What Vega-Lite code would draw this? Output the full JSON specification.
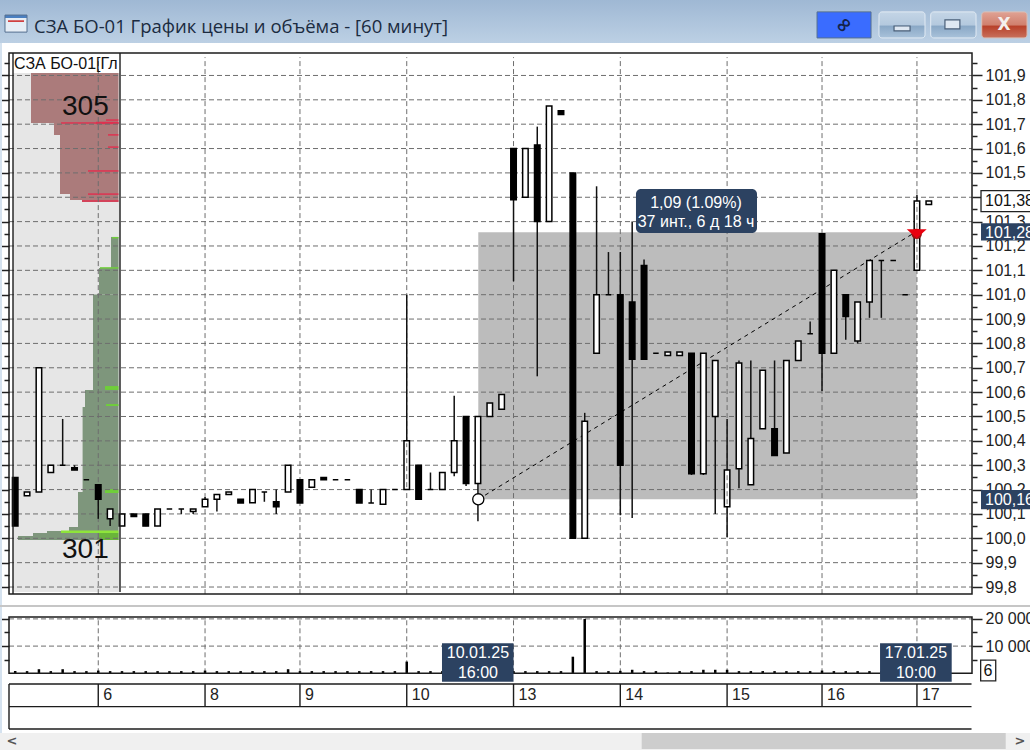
{"$schema":"https://vega.github.io/schema/vega-lite/v6.json","width":1030,"height":750,"padding":0,"autosize":{"type":"none"},"background":"#ffffff","config":{"view":{"stroke":null},"font":"Liberation Sans"},
"datasets":{
"candles":[
{"k":0,"o":100.25,"h":100.25,"l":100.05,"c":100.05},{"k":1,"o":100.175,"h":100.19,"l":100.175,"c":100.19},{"k":2,"o":100.19,"h":100.70,"l":100.19,"c":100.70},{"k":3,"o":100.27,"h":100.30,"l":100.27,"c":100.30},{"k":4,"o":100.30,"h":100.49,"l":100.30,"c":100.30},{"k":5,"o":100.29,"h":100.30,"l":100.28,"c":100.28},{"k":6,"o":100.24,"h":100.24,"l":100.24,"c":100.24},{"k":7,"o":100.22,"h":100.22,"l":100.08,"c":100.16},{"k":8,"o":100.08,"h":100.12,"l":100.05,"c":100.12},{"k":9,"o":100.05,"h":100.10,"l":100.05,"c":100.10},{"k":10,"o":100.10,"h":100.10,"l":100.09,"c":100.09},{"k":11,"o":100.10,"h":100.10,"l":100.05,"c":100.05},{"k":12,"o":100.05,"h":100.12,"l":100.05,"c":100.12},{"k":13,"o":100.12,"h":100.12,"l":100.12,"c":100.12},{"k":14,"o":100.12,"h":100.12,"l":100.10,"c":100.12},{"k":15,"o":100.11,"h":100.12,"l":100.10,"c":100.12},{"k":16,"o":100.13,"h":100.17,"l":100.13,"c":100.16},{"k":17,"o":100.16,"h":100.18,"l":100.11,"c":100.18},{"k":18,"o":100.18,"h":100.19,"l":100.18,"c":100.19},{"k":19,"o":100.16,"h":100.16,"l":100.145,"c":100.145},{"k":20,"o":100.146,"h":100.20,"l":100.146,"c":100.20},{"k":21,"o":100.19,"h":100.19,"l":100.15,"c":100.19},{"k":22,"o":100.15,"h":100.20,"l":100.10,"c":100.13},{"k":23,"o":100.19,"h":100.30,"l":100.19,"c":100.30},{"k":24,"o":100.24,"h":100.24,"l":100.145,"c":100.145},{"k":25,"o":100.21,"h":100.24,"l":100.21,"c":100.24},{"k":26,"o":100.25,"h":100.25,"l":100.24,"c":100.24},{"k":27,"o":100.24,"h":100.24,"l":100.24,"c":100.24},{"k":28,"o":100.24,"h":100.24,"l":100.24,"c":100.24},{"k":29,"o":100.20,"h":100.20,"l":100.145,"c":100.145},{"k":30,"o":100.145,"h":100.20,"l":100.145,"c":100.145},{"k":31,"o":100.14,"h":100.20,"l":100.14,"c":100.20},{"k":32,"o":100.20,"h":100.20,"l":100.20,"c":100.20},{"k":33,"o":100.20,"h":101.00,"l":100.20,"c":100.40},{"k":34,"o":100.30,"h":100.30,"l":100.16,"c":100.16},{"k":35,"o":100.20,"h":100.27,"l":100.20,"c":100.20},{"k":36,"o":100.20,"h":100.27,"l":100.20,"c":100.27},{"k":37,"o":100.27,"h":100.585,"l":100.255,"c":100.40},{"k":38,"o":100.50,"h":100.50,"l":100.215,"c":100.225},{"k":39,"o":100.225,"h":100.50,"l":100.07,"c":100.50},{"k":40,"o":100.50,"h":100.555,"l":100.50,"c":100.555},{"k":41,"o":100.53,"h":100.59,"l":100.53,"c":100.59},{"k":42,"o":101.60,"h":101.60,"l":101.055,"c":101.39},{"k":43,"o":101.40,"h":101.60,"l":101.40,"c":101.60},{"k":44,"o":101.615,"h":101.69,"l":100.665,"c":101.30},{"k":45,"o":101.30,"h":101.775,"l":101.30,"c":101.775},{"k":46,"o":101.755,"h":101.755,"l":101.74,"c":101.74},{"k":47,"o":101.50,"h":101.50,"l":100.00,"c":100.00},{"k":48,"o":100.00,"h":100.515,"l":100.00,"c":100.48},{"k":49,"o":100.76,"h":101.445,"l":100.76,"c":101.00},{"k":50,"o":101.00,"h":101.175,"l":101.00,"c":101.00},{"k":51,"o":101.00,"h":101.175,"l":100.095,"c":100.30},{"k":52,"o":100.97,"h":101.30,"l":100.083,"c":100.735},{"k":53,"o":101.12,"h":101.145,"l":100.735,"c":100.735},{"k":54,"o":100.76,"h":100.76,"l":100.76,"c":100.76},{"k":55,"o":100.75,"h":100.765,"l":100.75,"c":100.765},{"k":56,"o":100.75,"h":100.765,"l":100.75,"c":100.765},{"k":57,"o":100.76,"h":100.76,"l":100.26,"c":100.265},{"k":58,"o":100.265,"h":100.76,"l":100.26,"c":100.76},{"k":59,"o":100.50,"h":100.73,"l":100.10,"c":100.73},{"k":60,"o":100.13,"h":100.49,"l":100.005,"c":100.28},{"k":61,"o":100.285,"h":100.73,"l":100.205,"c":100.72},{"k":62,"o":100.22,"h":100.73,"l":100.22,"c":100.41},{"k":63,"o":100.45,"h":100.69,"l":100.45,"c":100.69},{"k":64,"o":100.45,"h":100.73,"l":100.34,"c":100.34},{"k":65,"o":100.35,"h":100.73,"l":100.35,"c":100.73},{"k":66,"o":100.73,"h":100.81,"l":100.73,"c":100.81},{"k":67,"o":100.84,"h":100.89,"l":100.84,"c":100.84},{"k":68,"o":101.25,"h":101.25,"l":100.605,"c":100.76},{"k":69,"o":100.76,"h":101.10,"l":100.76,"c":101.10},{"k":70,"o":101.00,"h":101.00,"l":100.815,"c":100.91},{"k":71,"o":100.81,"h":100.97,"l":100.80,"c":100.97},{"k":72,"o":100.97,"h":101.14,"l":100.905,"c":101.14},{"k":73,"o":101.14,"h":101.14,"l":100.905,"c":101.14},{"k":74,"o":101.14,"h":101.14,"l":101.14,"c":101.14},{"k":75,"o":101.00,"h":101.00,"l":101.00,"c":101.00},{"k":76,"o":101.10,"h":101.41,"l":101.10,"c":101.385},{"k":77,"o":101.37,"h":101.385,"l":101.37,"c":101.385}],
"volumes":[{"k":0,"v":800},{"k":1,"v":800},{"k":2,"v":1500},{"k":3,"v":800},{"k":4,"v":1500},{"k":5,"v":800},{"k":6,"v":800},{"k":7,"v":1000},{"k":8,"v":800},{"k":9,"v":800},{"k":10,"v":800},{"k":11,"v":800},{"k":12,"v":800},{"k":13,"v":800},{"k":14,"v":800},{"k":15,"v":800},{"k":16,"v":1000},{"k":17,"v":800},{"k":18,"v":800},{"k":19,"v":800},{"k":20,"v":800},{"k":21,"v":800},{"k":22,"v":800},{"k":23,"v":1500},{"k":24,"v":800},{"k":25,"v":800},{"k":26,"v":800},{"k":27,"v":800},{"k":28,"v":800},{"k":29,"v":800},{"k":30,"v":800},{"k":31,"v":800},{"k":32,"v":800},{"k":33,"v":4300},{"k":34,"v":800},{"k":35,"v":800},{"k":36,"v":800},{"k":37,"v":800},{"k":38,"v":800},{"k":39,"v":800},{"k":40,"v":800},{"k":41,"v":800},{"k":42,"v":800},{"k":43,"v":800},{"k":44,"v":800},{"k":45,"v":800},{"k":46,"v":800},{"k":47,"v":6100},{"k":48,"v":20000},{"k":49,"v":800},{"k":50,"v":800},{"k":51,"v":900},{"k":52,"v":1300},{"k":53,"v":800},{"k":54,"v":800},{"k":55,"v":300},{"k":56,"v":800},{"k":57,"v":800},{"k":58,"v":1300},{"k":59,"v":1300},{"k":60,"v":1300},{"k":61,"v":800},{"k":62,"v":800},{"k":63,"v":800},{"k":64,"v":800},{"k":65,"v":800},{"k":66,"v":800},{"k":67,"v":800},{"k":68,"v":1000},{"k":69,"v":800},{"k":70,"v":800},{"k":71,"v":800},{"k":72,"v":800},{"k":73,"v":800},{"k":74,"v":800},{"k":75,"v":800}],
"hgrid":[{"p":99.8},{"p":99.9},{"p":100.0},{"p":100.1},{"p":100.2},{"p":100.3},{"p":100.4},{"p":100.5},{"p":100.6},{"p":100.7},{"p":100.8},{"p":100.9},{"p":101.0},{"p":101.1},{"p":101.2},{"p":101.3},{"p":101.4},{"p":101.5},{"p":101.6},{"p":101.7},{"p":101.8},{"p":101.9}],
"dates":[{"k":7,"d":"6"},{"k":16,"d":"8"},{"k":24,"d":"9"},{"k":33,"d":"10"},{"k":42,"d":"13"},{"k":51,"d":"14"},{"k":60,"d":"15"},{"k":68,"d":"16"},{"k":76,"d":"17"}],
"bg":[
{"part":"edge","k":-1.281,"k2":-1.113,"p":99.131,"p2":102.033},
{"part":"scroll","k":-1.281,"k2":85.529,"p":99.131,"p2":99.201},
{"part":"thumb","k":52.80,"k2":83.48,"p":99.135,"p2":99.201},
{"part":"sep","k":-1.281,"k2":85.529,"p":99.718,"p2":99.726},
{"part":"panel","k":-0.185,"k2":8.833,"p":99.780,"p2":101.910},
{"part":"ask","k":1.332,"k2":8.706,"p":101.705,"p2":101.910},
{"part":"ask","k":3.270,"k2":8.706,"p":101.656,"p2":101.705},
{"part":"ask","k":3.776,"k2":8.706,"p":101.413,"p2":101.656},
{"part":"ask","k":4.619,"k2":8.706,"p":101.389,"p2":101.413},
{"part":"ask","k":5.630,"k2":8.706,"p":101.381,"p2":101.389},
{"part":"askhi","k":3.860,"k2":8.706,"p":101.702,"p2":101.708},
{"part":"askhi","k":6.809,"k2":8.706,"p":101.700,"p2":101.710},
{"part":"askhi","k":7.653,"k2":8.706,"p":101.714,"p2":101.720},
{"part":"askhi","k":7.821,"k2":8.706,"p":101.653,"p2":101.659},
{"part":"askhi","k":7.821,"k2":8.706,"p":101.603,"p2":101.609},
{"part":"askhi","k":6.136,"k2":8.706,"p":101.505,"p2":101.511},
{"part":"askhi","k":6.136,"k2":8.706,"p":101.410,"p2":101.416},
{"part":"askhi","k":5.630,"k2":8.706,"p":101.382,"p2":101.388},
{"part":"bid","k":8.074,"k2":8.706,"p":101.110,"p2":101.237},
{"part":"bid","k":7.063,"k2":8.706,"p":101.001,"p2":101.110},
{"part":"bid","k":6.557,"k2":8.706,"p":100.609,"p2":101.001},
{"part":"bid","k":5.883,"k2":8.706,"p":100.539,"p2":100.609},
{"part":"bid","k":5.681,"k2":8.706,"p":100.190,"p2":100.539},
{"part":"bid","k":5.293,"k2":8.706,"p":100.046,"p2":100.190},
{"part":"bid","k":4.535,"k2":8.706,"p":100.030,"p2":100.046},
{"part":"bid","k":2.680,"k2":8.706,"p":100.022,"p2":100.030},
{"part":"bid","k":1.500,"k2":8.706,"p":100.009,"p2":100.022},
{"part":"bid","k":0.236,"k2":8.706,"p":99.993,"p2":100.009},
{"part":"bidhi","k":7.568,"k2":8.706,"p":100.609,"p2":100.625},
{"part":"bidhi","k":7.653,"k2":8.706,"p":100.543,"p2":100.551},
{"part":"bidhi","k":7.568,"k2":8.706,"p":100.186,"p2":100.202},
{"part":"bidhi","k":7.147,"k2":8.706,"p":101.107,"p2":101.113},
{"part":"bidhi","k":8.158,"k2":8.706,"p":101.231,"p2":101.237},
{"part":"bidhi2","k":7.063,"k2":8.706,"p":99.993,"p2":100.022},
{"part":"bright","k":3.860,"k2":8.706,"p":100.022,"p2":100.032},
{"part":"range","k":39.03,"k2":75.98,"p":100.16,"p2":101.256},
{"part":"icon","k":-0.860,"k2":0.995,"p":102.078,"p2":102.148},
{"part":"iconhi","k":-0.860,"k2":0.995,"p":102.136,"p2":102.148},
{"part":"iconline","k":-0.607,"k2":0.742,"p":102.119,"p2":102.127},
{"part":"link","k":67.58,"k2":72.13,"p":102.054,"p2":102.161}],
"tags":[
{"k":35.97,"k2":42.0,"p":99.411,"p2":99.569},
{"k":72.89,"k2":78.93,"p":99.411,"p2":99.569},
{"k":81.4,"k2":85.6,"p":101.222,"p2":101.293},
{"k":81.4,"k2":85.6,"p":100.119,"p2":100.198}],
"boxed":[{"k":81.4,"k2":85.8,"p":101.341,"p2":101.427},{"k":81.37,"k2":82.64,"p":99.415,"p2":99.500}],
"white":[{"t":"1,09 (1.09%)","k":57.38,"p":101.376},{"t":"37 инт., 6 д 18 ч","k":57.38,"p":101.298},{"t":"10.01.25","k":39.0,"p":99.529},{"t":"16:00","k":39.0,"p":99.447},{"t":"17.01.25","k":75.92,"p":99.529},{"t":"10:00","k":75.92,"p":99.447}],
"whiteLeft":[{"t":"101,28","k":81.74,"p":101.253},{"t":"100,16","k":81.74,"p":100.157}],
"darkLeft":[{"t":"101,38","k":81.74,"p":101.385},{"t":"СЗА БО-01[Гл","k":-0.101,"p":101.947}]
},
"resolve":{"scale":{"y":"independent"},"axis":{"y":"independent"}},
"layer":[
{"resolve":{"axis":{"y":"independent"}},"layer":[
{"data":{"values":[{"v":10000},{"v":20000}]},"mark":{"type":"rule","color":"#6e6e6e","strokeWidth":1,"strokeDash":[5,3]},"encoding":{"y":{"field":"v","type":"quantitative","scale":{"domain":[-28199,247537],"nice":false,"zero":false},"title":null,"axis":{"orient":"right","offset":-58,"title":null,"domain":false,"grid":false,"values":[5000,10000,15000,20000],"tickColor":"#222222","tickWidth":1.5,"tickSize":{"condition":{"test":"datum.value%10000==0","value":10},"value":5},"labelFont":"Liberation Sans","labelFontSize":16,"labelColor":"#222222","labelPadding":3,"labelOverlap":false,"labelBound":false,"labelFlush":false,"labelExpr":"datum.value%10000==0 ? replace(format(datum.value,','),',',' ') : ''"}},"x":{"datum":-0.5225,"type":"quantitative","scale":{"domain":[-1.2811,85.5288],"nice":false,"zero":false,"padding":0},"axis":null},"x2":{"datum":80.641}}},
{"data":{"name":"dates"},"mark":{"type":"rule","color":"#6e6e6e","strokeWidth":1,"strokeDash":[5,3]},"encoding":{"x":{"field":"k","type":"quantitative","scale":{"domain":[-1.2811,85.5288],"nice":false,"zero":false,"padding":0},"axis":null},"y":{"datum":0,"type":"quantitative","scale":{"domain":[-28199,247537],"nice":false,"zero":false},"axis":null},"y2":{"datum":20698}}},
{"data":{"name":"volumes"},"mark":{"type":"bar","orient":"vertical","size":2.5,"color":"#000000"},"encoding":{"x":{"field":"k","type":"quantitative","scale":{"domain":[-1.2811,85.5288],"nice":false,"zero":false,"padding":0},"axis":null},"y":{"field":"v","type":"quantitative","scale":{"domain":[-28199,247537],"nice":false,"zero":false},"title":null,"axis":{"orient":"left","offset":-9,"title":null,"domain":false,"grid":false,"labels":false,"values":[5000,10000,15000,20000],"tickColor":"#222222","tickWidth":1.5,"tickSize":{"condition":{"test":"datum.value%10000==0","value":8},"value":5}}},"y2":{"datum":0}}},
{"data":{"values":[{"k":-0.5225,"k2":80.641,"v":0,"v2":20698}]},"mark":{"type":"rect","fillOpacity":0,"stroke":"#1c1c1c","strokeWidth":1.5},"encoding":{"x":{"field":"k","type":"quantitative","scale":{"domain":[-1.2811,85.5288],"nice":false,"zero":false,"padding":0},"axis":null},"x2":{"field":"k2"},"y":{"field":"v","type":"quantitative","scale":{"domain":[-28199,247537],"nice":false,"zero":false},"axis":null},"y2":{"field":"v2"}}}
]},
{"resolve":{"axis":{"y":"independent"}},"layer":[
{"data":{"values":[{"k":-1.281,"k2":85.529,"p":102.033,"p2":102.2098}]},"mark":{"type":"rect","strokeWidth":0,"fill":{"x1":0,"y1":0,"x2":0,"y2":1,"gradient":"linear","stops":[{"offset":0,"color":"#9fb8d4"},{"offset":1,"color":"#bcd0e4"}]}},"encoding":{"x":{"field":"k","type":"quantitative","scale":{"domain":[-1.2811,85.5288],"nice":false,"zero":false,"padding":0},"axis":null},"x2":{"field":"k2"},"y":{"field":"p","type":"quantitative","scale":{"domain":[99.13095,102.20977],"nice":false,"zero":false},"axis":null},"y2":{"field":"p2"}}},
{"data":{"name":"bg"},"mark":{"type":"rect","strokeWidth":0},"encoding":{"x":{"field":"k","type":"quantitative","scale":{"domain":[-1.2811,85.5288],"nice":false,"zero":false,"padding":0},"axis":null},"x2":{"field":"k2"},"y":{"field":"p","type":"quantitative","scale":{"domain":[99.13095,102.20977],"nice":false,"zero":false},"axis":null},"y2":{"field":"p2"},"fill":{"field":"part","type":"nominal","legend":null,"scale":{"domain":["edge","scroll","thumb","sep","panel","ask","askhi","bid","bidhi","bidhi2","bright","range","icon","iconhi","iconline","link"],"range":["#d5e2ef","#f0f0f0","#cdcdcd","#c6c6c6","#e6e6e6","#ab7b7b","#e0304f","#7e967c","#6fce3a","#6ab53a","#8ee53a","#bcbcbc","#e6edf5","#4a7fc0","#d04040","#3a6cff"]}}}},
{"data":{"values":[{"k":-0.860,"k2":0.995,"p":102.078,"p2":102.148},{"k":67.58,"k2":72.13,"p":102.054,"p2":102.161}]},"mark":{"type":"rect","fillOpacity":0,"stroke":"#56708f","strokeWidth":1},"encoding":{"x":{"field":"k","type":"quantitative","scale":{"domain":[-1.2811,85.5288],"nice":false,"zero":false,"padding":0},"axis":null},"x2":{"field":"k2"},"y":{"field":"p","type":"quantitative","scale":{"domain":[99.13095,102.20977],"nice":false,"zero":false},"axis":null},"y2":{"field":"p2"}}},
{"data":{"values":[{"k":72.80,"k2":76.68,"p":102.054,"p2":102.161},{"k":77.16,"k2":80.98,"p":102.054,"p2":102.161}]},"mark":{"type":"rect","cornerRadius":3,"stroke":"#e2ebf4","strokeWidth":1,"fill":{"x1":0,"y1":0,"x2":0,"y2":1,"gradient":"linear","stops":[{"offset":0,"color":"#c4d5e6"},{"offset":0.5,"color":"#b4c9de"},{"offset":0.55,"color":"#8aa8c6"},{"offset":1,"color":"#a9c2da"}]}},"encoding":{"x":{"field":"k","type":"quantitative","scale":{"domain":[-1.2811,85.5288],"nice":false,"zero":false,"padding":0},"axis":null},"x2":{"field":"k2"},"y":{"field":"p","type":"quantitative","scale":{"domain":[99.13095,102.20977],"nice":false,"zero":false},"axis":null},"y2":{"field":"p2"}}},
{"data":{"values":[{"k":81.46,"k2":85.28,"p":102.054,"p2":102.161}]},"mark":{"type":"rect","cornerRadius":3,"stroke":"#d9c0b8","strokeWidth":1,"fill":{"x1":0,"y1":0,"x2":0,"y2":1,"gradient":"linear","stops":[{"offset":0,"color":"#e0a294"},{"offset":0.5,"color":"#d0806e"},{"offset":0.55,"color":"#b8412a"},{"offset":1,"color":"#c8705c"}]}},"encoding":{"x":{"field":"k","type":"quantitative","scale":{"domain":[-1.2811,85.5288],"nice":false,"zero":false,"padding":0},"axis":null},"x2":{"field":"k2"},"y":{"field":"p","type":"quantitative","scale":{"domain":[99.13095,102.20977],"nice":false,"zero":false},"axis":null},"y2":{"field":"p2"}}},
{"data":{"values":[{"k":74.07,"k2":75.42,"p":102.083,"p2":102.103},{"k":78.36,"k2":79.62,"p":102.091,"p2":102.128}]},"mark":{"type":"rect","fill":"#dfe8f2","stroke":"#4a5f78","strokeWidth":1.2},"encoding":{"x":{"field":"k","type":"quantitative","scale":{"domain":[-1.2811,85.5288],"nice":false,"zero":false,"padding":0},"axis":null},"x2":{"field":"k2"},"y":{"field":"p","type":"quantitative","scale":{"domain":[99.13095,102.20977],"nice":false,"zero":false},"axis":null},"y2":{"field":"p2"}}},
{"data":{"name":"hgrid"},"mark":{"type":"rule","color":"#6e6e6e","strokeWidth":1,"strokeDash":[5,3]},"encoding":{"y":{"field":"p","type":"quantitative","scale":{"domain":[99.13095,102.20977],"nice":false,"zero":false},"title":null,"axis":{"orient":"right","offset":-58,"title":null,"domain":false,"grid":false,"values":[99.8,99.85,99.9,99.95,100,100.05,100.1,100.15,100.2,100.25,100.3,100.35,100.4,100.45,100.5,100.55,100.6,100.65,100.7,100.75,100.8,100.85,100.9,100.95,101,101.05,101.1,101.15,101.2,101.25,101.3,101.35,101.4,101.45,101.5,101.55,101.6,101.65,101.7,101.75,101.8,101.85,101.9,101.95],"tickColor":"#222222","tickWidth":1.5,"tickSize":{"condition":{"test":"abs(datum.value*10-round(datum.value*10))<0.001","value":10},"value":5},"labelFont":"Liberation Sans","labelFontSize":16,"labelColor":"#222222","labelPadding":3,"labelOverlap":false,"labelBound":false,"labelFlush":false,"labelExpr":"abs(datum.value*10-round(datum.value*10))<0.001 ? replace(format(datum.value,'.1f'),'.',',') : ''"}},"x":{"datum":-0.5225,"type":"quantitative","scale":{"domain":[-1.2811,85.5288],"nice":false,"zero":false,"padding":0},"axis":null},"x2":{"datum":80.641}}},
{"data":{"name":"dates"},"mark":{"type":"rule","color":"#6e6e6e","strokeWidth":1,"strokeDash":[5,3]},"encoding":{"x":{"field":"k","type":"quantitative","scale":{"domain":[-1.2811,85.5288],"nice":false,"zero":false,"padding":0},"axis":null},"y":{"datum":99.771,"type":"quantitative","scale":{"domain":[99.13095,102.20977],"nice":false,"zero":false},"axis":null},"y2":{"datum":101.975}}},
{"data":{"values":[{"k":39.03,"p":100.16},{"k":75.98,"p":101.26}]},"mark":{"type":"line","color":"#000000","strokeWidth":1,"strokeDash":[4,4]},"encoding":{"x":{"field":"k","type":"quantitative","scale":{"domain":[-1.2811,85.5288],"nice":false,"zero":false,"padding":0},"axis":null},"y":{"field":"p","type":"quantitative","scale":{"domain":[99.13095,102.20977],"nice":false,"zero":false},"axis":null}}},
{"data":{"name":"candles"},"mark":{"type":"rule","color":"#111111","strokeWidth":1.5},"encoding":{"x":{"field":"k","type":"quantitative","scale":{"domain":[-1.2811,85.5288],"nice":false,"zero":false,"padding":0},"axis":null},"y":{"field":"l","type":"quantitative","scale":{"domain":[99.13095,102.20977],"nice":false,"zero":false},"axis":null},"y2":{"field":"h"}}},
{"data":{"name":"candles"},"mark":{"type":"bar","orient":"vertical","size":5.5,"stroke":"#000000","strokeWidth":1.5},"encoding":{"x":{"field":"k","type":"quantitative","scale":{"domain":[-1.2811,85.5288],"nice":false,"zero":false,"padding":0},"axis":null},"y":{"field":"o","type":"quantitative","scale":{"domain":[99.13095,102.20977],"nice":false,"zero":false},"axis":null},"y2":{"field":"c"},"fill":{"condition":{"test":"datum.c<datum.o","value":"#000000"},"value":"#ffffff"}}},
{"data":{"values":[{"k":33,"a":100.21,"b":100.39},{"k":60,"a":100.14,"b":100.27},{"k":76,"a":101.11,"b":101.375}]},"mark":{"type":"rule","color":"#6e6e6e","strokeWidth":1,"strokeDash":[5,3]},"encoding":{"x":{"field":"k","type":"quantitative","scale":{"domain":[-1.2811,85.5288],"nice":false,"zero":false,"padding":0},"axis":null},"y":{"field":"a","type":"quantitative","scale":{"domain":[99.13095,102.20977],"nice":false,"zero":false},"axis":null},"y2":{"field":"b"}}},
{"data":{"values":[{"k":39.03,"p":100.16}]},"mark":{"type":"point","filled":true,"fill":"#ffffff","stroke":"#000000","strokeWidth":1.3,"size":125,"opacity":1},"encoding":{"x":{"field":"k","type":"quantitative","scale":{"domain":[-1.2811,85.5288],"nice":false,"zero":false,"padding":0},"axis":null},"y":{"field":"p","type":"quantitative","scale":{"domain":[99.13095,102.20977],"nice":false,"zero":false},"axis":null}}},
{"data":{"values":[{"k":75.98,"p":101.25}]},"mark":{"type":"point","shape":"circle","filled":true,"color":"#9c1010","size":110,"opacity":1},"encoding":{"x":{"field":"k","type":"quantitative","scale":{"domain":[-1.2811,85.5288],"nice":false,"zero":false,"padding":0},"axis":null},"y":{"field":"p","type":"quantitative","scale":{"domain":[99.13095,102.20977],"nice":false,"zero":false},"axis":null}}},
{"data":{"values":[{"k":75.98,"p":101.25}]},"mark":{"type":"point","shape":"M-1,-0.45L1,-0.45L0,0.45Z","filled":true,"color":"#e8000e","size":400,"opacity":1},"encoding":{"x":{"field":"k","type":"quantitative","scale":{"domain":[-1.2811,85.5288],"nice":false,"zero":false,"padding":0},"axis":null},"y":{"field":"p","type":"quantitative","scale":{"domain":[99.13095,102.20977],"nice":false,"zero":false},"axis":null}}},
{"data":{"values":[{"k":-0.5225,"k2":80.641,"p":99.771,"p2":101.992}]},"mark":{"type":"rect","fillOpacity":0,"stroke":"#1c1c1c","strokeWidth":1.5},"encoding":{"x":{"field":"k","type":"quantitative","scale":{"domain":[-1.2811,85.5288],"nice":false,"zero":false,"padding":0},"axis":null},"x2":{"field":"k2"},"y":{"field":"p","type":"quantitative","scale":{"domain":[99.13095,102.20977],"nice":false,"zero":false},"title":null,"axis":{"orient":"left","offset":-9,"title":null,"domain":false,"grid":false,"labels":false,"values":[99.8,99.85,99.9,99.95,100,100.05,100.1,100.15,100.2,100.25,100.3,100.35,100.4,100.45,100.5,100.55,100.6,100.65,100.7,100.75,100.8,100.85,100.9,100.95,101,101.05,101.1,101.15,101.2,101.25,101.3,101.35,101.4,101.45,101.5,101.55,101.6,101.65,101.7,101.75,101.8,101.85,101.9,101.95],"tickColor":"#222222","tickWidth":1.5,"tickSize":{"condition":{"test":"abs(datum.value*10-round(datum.value*10))<0.001","value":8},"value":5}}},"y2":{"field":"p2"}}},
{"data":{"values":[{"k":-0.185,"a":99.771,"b":101.992},{"k":8.833,"a":99.78,"b":101.992}]},"mark":{"type":"rule","color":"#1c1c1c","strokeWidth":1.4},"encoding":{"x":{"field":"k","type":"quantitative","scale":{"domain":[-1.2811,85.5288],"nice":false,"zero":false,"padding":0},"axis":null},"y":{"field":"a","type":"quantitative","scale":{"domain":[99.13095,102.20977],"nice":false,"zero":false},"axis":null},"y2":{"field":"b"}}},
{"data":{"values":[{"p":99.402},{"p":99.309},{"p":99.217}]},"mark":{"type":"rule","color":"#1c1c1c","strokeWidth":1.4},"encoding":{"y":{"field":"p","type":"quantitative","scale":{"domain":[99.13095,102.20977],"nice":false,"zero":false},"axis":null},"x":{"datum":-0.5225,"type":"quantitative","scale":{"domain":[-1.2811,85.5288],"nice":false,"zero":false,"padding":0},"axis":null},"x2":{"datum":80.6}}},
{"data":{"name":"dates"},"mark":{"type":"rule","color":"#1c1c1c","strokeWidth":1.4},"encoding":{"x":{"field":"k","type":"quantitative","scale":{"domain":[-1.2811,85.5288],"nice":false,"zero":false,"padding":0},"axis":null},"y":{"datum":99.309,"type":"quantitative","scale":{"domain":[99.13095,102.20977],"nice":false,"zero":false},"axis":null},"y2":{"datum":99.402}}},
{"data":{"values":[{"k":-0.5225}]},"mark":{"type":"rule","color":"#1c1c1c","strokeWidth":1.4},"encoding":{"x":{"field":"k","type":"quantitative","scale":{"domain":[-1.2811,85.5288],"nice":false,"zero":false,"padding":0},"axis":null},"y":{"datum":99.217,"type":"quantitative","scale":{"domain":[99.13095,102.20977],"nice":false,"zero":false},"axis":null},"y2":{"datum":99.402}}},
{"data":{"name":"dates"},"mark":{"type":"text","align":"left","baseline":"middle","dx":5,"font":"Liberation Sans","fontSize":16,"color":"#222222"},"encoding":{"x":{"field":"k","type":"quantitative","scale":{"domain":[-1.2811,85.5288],"nice":false,"zero":false,"padding":0},"axis":null},"y":{"datum":99.355,"type":"quantitative","scale":{"domain":[99.13095,102.20977],"nice":false,"zero":false},"axis":null},"text":{"field":"d"}}},
{"data":{"values":[{"k":52.32,"k2":62.52,"p":101.253,"p2":101.434}]},"mark":{"type":"rect","fill":"#2c4261","cornerRadius":5},"encoding":{"x":{"field":"k","type":"quantitative","scale":{"domain":[-1.2811,85.5288],"nice":false,"zero":false,"padding":0},"axis":null},"x2":{"field":"k2"},"y":{"field":"p","type":"quantitative","scale":{"domain":[99.13095,102.20977],"nice":false,"zero":false},"axis":null},"y2":{"field":"p2"}}},
{"data":{"name":"tags"},"mark":{"type":"rect","fill":"#2c4261"},"encoding":{"x":{"field":"k","type":"quantitative","scale":{"domain":[-1.2811,85.5288],"nice":false,"zero":false,"padding":0},"axis":null},"x2":{"field":"k2"},"y":{"field":"p","type":"quantitative","scale":{"domain":[99.13095,102.20977],"nice":false,"zero":false},"axis":null},"y2":{"field":"p2"}}},
{"data":{"name":"boxed"},"mark":{"type":"rect","fill":"#ffffff","stroke":"#222222","strokeWidth":1.3},"encoding":{"x":{"field":"k","type":"quantitative","scale":{"domain":[-1.2811,85.5288],"nice":false,"zero":false,"padding":0},"axis":null},"x2":{"field":"k2"},"y":{"field":"p","type":"quantitative","scale":{"domain":[99.13095,102.20977],"nice":false,"zero":false},"axis":null},"y2":{"field":"p2"}}},
{"data":{"name":"white"},"mark":{"type":"text","align":"center","baseline":"middle","font":"Liberation Sans","fontSize":16,"color":"#ffffff"},"encoding":{"x":{"field":"k","type":"quantitative","scale":{"domain":[-1.2811,85.5288],"nice":false,"zero":false,"padding":0},"axis":null},"y":{"field":"p","type":"quantitative","scale":{"domain":[99.13095,102.20977],"nice":false,"zero":false},"axis":null},"text":{"field":"t"}}},
{"data":{"name":"whiteLeft"},"mark":{"type":"text","align":"left","baseline":"middle","font":"Liberation Sans","fontSize":16,"color":"#ffffff"},"encoding":{"x":{"field":"k","type":"quantitative","scale":{"domain":[-1.2811,85.5288],"nice":false,"zero":false,"padding":0},"axis":null},"y":{"field":"p","type":"quantitative","scale":{"domain":[99.13095,102.20977],"nice":false,"zero":false},"axis":null},"text":{"field":"t"}}},
{"data":{"name":"darkLeft"},"mark":{"type":"text","align":"left","baseline":"middle","font":"Liberation Sans","fontSize":16,"color":"#111111"},"encoding":{"x":{"field":"k","type":"quantitative","scale":{"domain":[-1.2811,85.5288],"nice":false,"zero":false,"padding":0},"axis":null},"y":{"field":"p","type":"quantitative","scale":{"domain":[99.13095,102.20977],"nice":false,"zero":false},"axis":null},"text":{"field":"t"}}},
{"data":{"values":[{"t":"6","k":81.99,"p":99.455}]},"mark":{"type":"text","align":"center","baseline":"middle","font":"Liberation Sans","fontSize":16,"color":"#111111"},"encoding":{"x":{"field":"k","type":"quantitative","scale":{"domain":[-1.2811,85.5288],"nice":false,"zero":false,"padding":0},"axis":null},"y":{"field":"p","type":"quantitative","scale":{"domain":[99.13095,102.20977],"nice":false,"zero":false},"axis":null},"text":{"field":"t"}}},
{"data":{"values":[{"t":"305","k":3.944,"p":101.771},{"t":"301","k":3.944,"p":99.952}]},"mark":{"type":"text","align":"left","baseline":"middle","font":"Liberation Sans","fontSize":28,"color":"#111111"},"encoding":{"x":{"field":"k","type":"quantitative","scale":{"domain":[-1.2811,85.5288],"nice":false,"zero":false,"padding":0},"axis":null},"y":{"field":"p","type":"quantitative","scale":{"domain":[99.13095,102.20977],"nice":false,"zero":false},"axis":null},"text":{"field":"t"}}},
{"data":{"values":[{"t":"СЗА БО-01 График цены и объёма - [60 минут]","k":1.584,"p":102.099}]},"mark":{"type":"text","align":"left","baseline":"middle","font":"Open Sans","fontSize":18.5,"color":"#1b2b40"},"encoding":{"x":{"field":"k","type":"quantitative","scale":{"domain":[-1.2811,85.5288],"nice":false,"zero":false,"padding":0},"axis":null},"y":{"field":"p","type":"quantitative","scale":{"domain":[99.13095,102.20977],"nice":false,"zero":false},"axis":null},"text":{"field":"t"}}},
{"data":{"values":[{"t":"∞","k":69.85,"p":102.107}]},"mark":{"type":"text","align":"center","baseline":"middle","font":"DejaVu Sans","fontWeight":"bold","fontSize":20,"angle":-45,"color":"#14234a"},"encoding":{"x":{"field":"k","type":"quantitative","scale":{"domain":[-1.2811,85.5288],"nice":false,"zero":false,"padding":0},"axis":null},"y":{"field":"p","type":"quantitative","scale":{"domain":[99.13095,102.20977],"nice":false,"zero":false},"axis":null},"text":{"field":"t"}}},
{"data":{"values":[{"t":"X","k":83.34,"p":102.107}]},"mark":{"type":"text","align":"center","baseline":"middle","font":"DejaVu Sans","fontWeight":"bold","fontSize":17,"color":"#f4f0ee"},"encoding":{"x":{"field":"k","type":"quantitative","scale":{"domain":[-1.2811,85.5288],"nice":false,"zero":false,"padding":0},"axis":null},"y":{"field":"p","type":"quantitative","scale":{"domain":[99.13095,102.20977],"nice":false,"zero":false},"axis":null},"text":{"field":"t"}}},
{"data":{"values":[{"t":"<","k":-0.27,"p":99.168},{"t":">","k":84.69,"p":99.168}]},"mark":{"type":"text","align":"center","baseline":"middle","font":"DejaVu Sans","fontWeight":"bold","fontSize":13,"color":"#555555"},"encoding":{"x":{"field":"k","type":"quantitative","scale":{"domain":[-1.2811,85.5288],"nice":false,"zero":false,"padding":0},"axis":null},"y":{"field":"p","type":"quantitative","scale":{"domain":[99.13095,102.20977],"nice":false,"zero":false},"axis":null},"text":{"field":"t"}}}
]}
]}
